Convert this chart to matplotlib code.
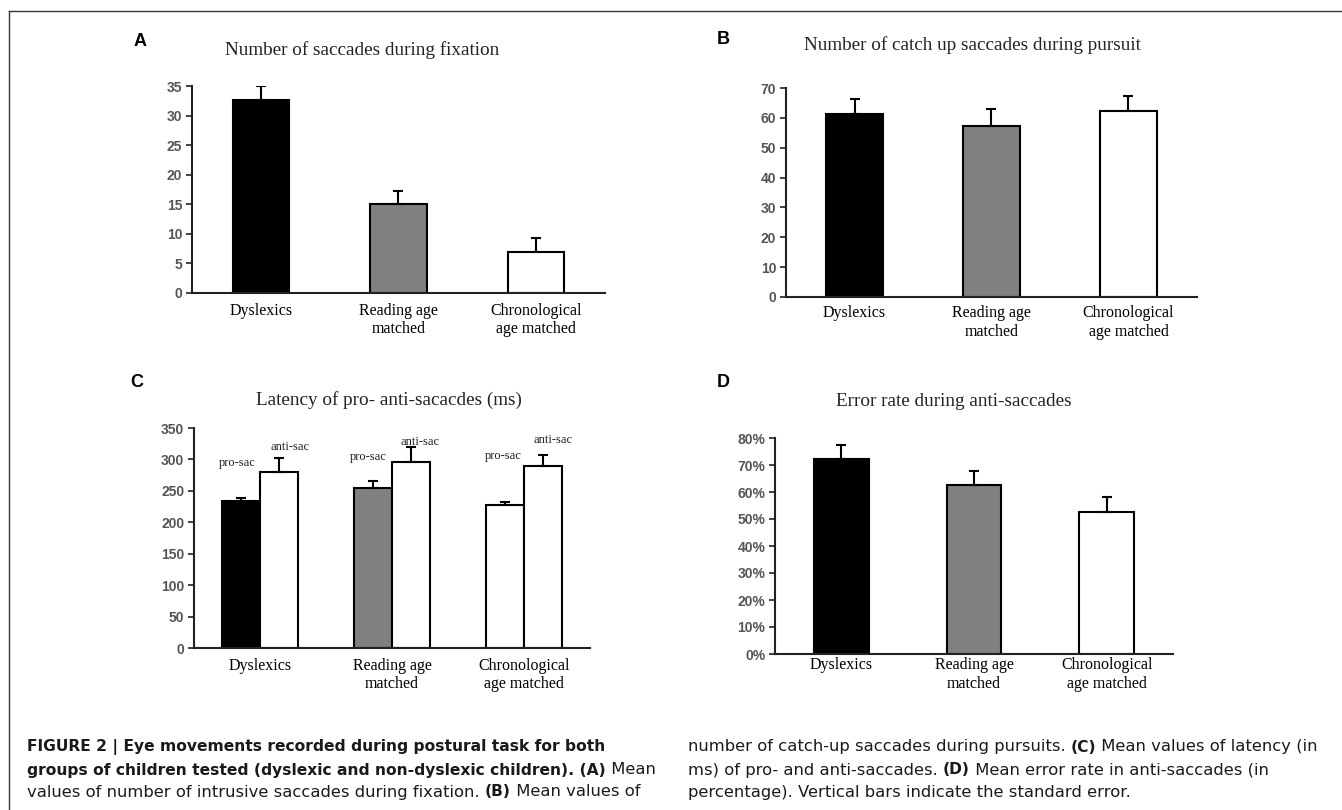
import matplotlib
matplotlib.use("Agg")
import matplotlib.pyplot as plt
from matplotlib.ticker import PercentFormatter
from matplotlib.lines import Line2D

# values
groups = ["Dyslexics", "Reading age\nmatched", "Chronological\nage matched"]
fix_saccades = [32.6, 15.1, 6.9]
fix_saccades_se = [2.4, 2.2, 2.4]
pursuit_saccades = [61.2, 57.4, 62.3]
pursuit_saccades_se = [5.1, 5.5, 5.1]
pro_latency = [234, 254, 227]
pro_latency_se = [4, 12, 5]
anti_latency = [280, 296, 290]
anti_latency_se = [22, 24, 17]
error_rate = [72.3, 62.7, 52.7]
error_rate_se = [5.0, 5.1, 5.4]

group_colors = ["black", "#808080", "white"]
serif = "Liberation Serif"
sans = "Liberation Sans"

fig = plt.figure(figsize=(13.42, 8.10), dpi=100)
W, H = 1342, 810


def px_axes(x0, y0, x1, y1):
    # pixel box (top-left origin) -> axes
    return fig.add_axes([x0 / W, 1 - y1 / H, (x1 - x0) / W, (y1 - y0) / H])


def style(ax, ymax, step, pad):
    ax.set_xlim(-0.5, 2.5)
    ax.set_ylim(0, ymax)
    ax.set_yticks(range(0, ymax + 1, step))
    for s in ["top", "right"]:
        ax.spines[s].set_visible(False)
    for s in ["left", "bottom"]:
        ax.spines[s].set_linewidth(1.5)
        ax.spines[s].set_color("#222222")
    ax.tick_params(axis="y", length=4, width=1.2, color="#222222", pad=3,
                   labelsize=10, labelcolor="#555555")
    ax.set_xticks(range(3))
    ax.set_xticklabels(groups, family=serif, fontsize=11.5, linespacing=1.2)
    ax.tick_params(axis="x", length=0, pad=pad)


def fix_ylabels(ax):
    for lab in ax.get_yticklabels():
        lab.set_family(sans)
        lab.set_fontweight("bold")


def bars(ax, x, vals, se, colors, width):
    ax.bar(x, vals, width=width, color=colors, edgecolor="black",
           linewidth=1.5, zorder=2)
    ax.errorbar(x, vals, yerr=[[0] * len(vals), se], fmt="none",
                ecolor="black", elinewidth=1.5, capsize=3.8, capthick=1.5,
                zorder=3)


xs = [0, 1, 2]

# A
axA = px_axes(192, 86, 605, 293)
bars(axA, xs, fix_saccades, fix_saccades_se, group_colors, 0.41)
style(axA, 35, 5, 7)
fix_ylabels(axA)

# B
axB = px_axes(786, 88, 1197, 297)
bars(axB, xs, pursuit_saccades, pursuit_saccades_se, group_colors, 0.41)
style(axB, 70, 10, 6)
fix_ylabels(axB)

# C
axC = px_axes(194, 428, 590, 648)
w = 0.29
bars(axC, [x - w / 2 for x in xs], pro_latency, pro_latency_se, group_colors, w)
bars(axC, [x + w / 2 for x in xs], anti_latency, anti_latency_se, ["white"] * 3, w)
style(axC, 350, 50, 7)
fix_ylabels(axC)
sac_label_pos = [(-0.17, 294, "pro-sac"), (0.23, 320, "anti-sac"),
                 (0.82, 304, "pro-sac"), (1.21, 328, "anti-sac"),
                 (1.84, 305, "pro-sac"), (2.22, 331, "anti-sac")]
for lx, ly, txt in sac_label_pos:
    axC.text(lx, ly, txt, family=serif, fontsize=9, ha="center", va="center",
             color="#222222")

# D
axD = px_axes(775, 438, 1173, 654)
bars(axD, xs, error_rate, error_rate_se, group_colors, 0.41)
style(axD, 80, 10, 2.5)
axD.yaxis.set_major_formatter(PercentFormatter(decimals=0))
fix_ylabels(axD)

titles = [(362, 50, "Number of saccades during fixation"),
          (972, 45, "Number of catch up saccades during pursuit"),
          (389, 400, "Latency of pro- anti-sacacdes (ms)"),
          (954, 401, "Error rate during anti-saccades")]
for tx, ty, txt in titles:
    fig.text(tx / W, 1 - ty / H, txt, family=serif, fontsize=13.8,
             ha="center", va="center", color="#222222")

for lx, ly, txt in [(140, 42, "A"), (723, 40, "B"), (137, 383, "C"), (723, 383, "D")]:
    fig.text(lx / W, 1 - ly / H, txt, family=sans, fontsize=13,
             fontweight="bold", ha="center", va="center")

# frame lines
fig.add_artist(Line2D([9 / W, 1], [1 - 11 / H, 1 - 11 / H], color="#333333", lw=1))
fig.add_artist(Line2D([9 / W, 9 / W], [0, 1 - 11 / H], color="#333333", lw=1))

# caption
renderer = fig.canvas.get_renderer()
cap_font = "DejaVu Sans"


def rich_line(x, y, parts):
    x = x / W
    for txt, bold in parts:
        t = fig.text(x, 1 - y / H, txt, family=cap_font,
                     fontsize=11.2 if bold else 11.8,
                     fontweight="bold" if bold else "normal",
                     ha="left", va="center", color="#1a1a1a")
        x += t.get_window_extent(renderer).width / W


rich_line(27, 747, [("FIGURE 2 | Eye movements recorded during postural task for both", True)])
rich_line(27, 770, [("groups of children tested (dyslexic and non-dyslexic children). (A)", True),
                    (" Mean", False)])
rich_line(27, 792, [("values of number of intrusive saccades during fixation. ", False),
                    ("(B)", True), (" Mean values of", False)])
rich_line(688, 747, [("number of catch-up saccades during pursuits. ", False), ("(C)", True),
                     (" Mean values of latency (in", False)])
rich_line(688, 770, [("ms) of pro- and anti-saccades. ", False), ("(D)", True),
                     (" Mean error rate in anti-saccades (in", False)])
rich_line(688, 792, [("percentage). Vertical bars indicate the standard error.", False)])

fig.savefig("out.png", dpi=100)
